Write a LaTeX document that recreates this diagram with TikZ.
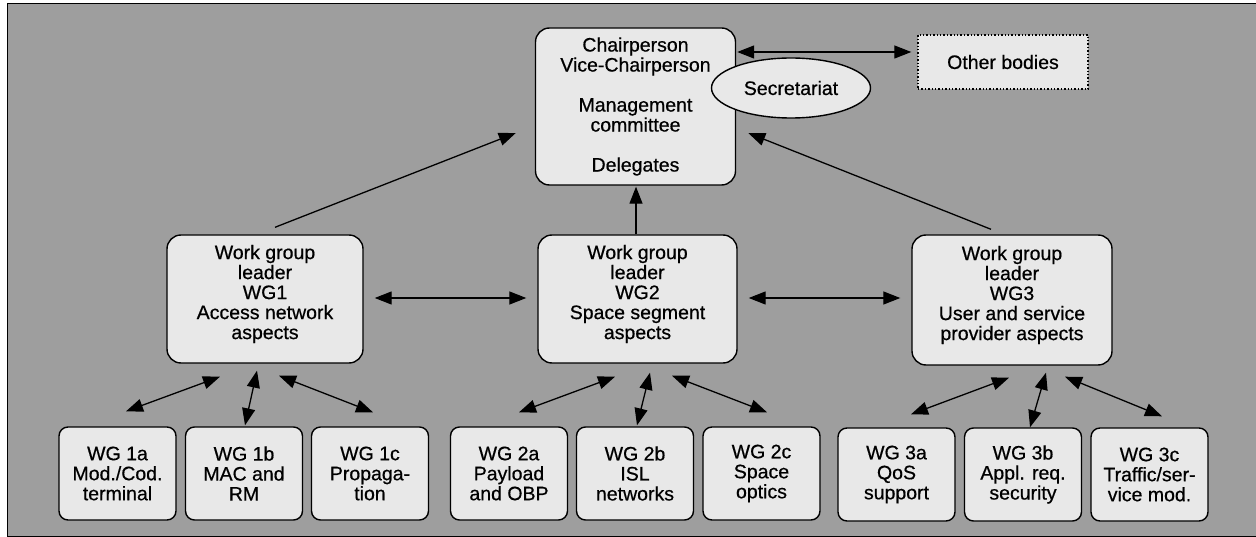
\documentclass[tikz,border=0pt]{standalone}
\usepackage{fontspec}
\setmainfont{Liberation Sans}[FakeBold=0.6]
\newfontfamily\lab{Liberation Sans}[FakeBold=0.6]
\usetikzlibrary{arrows.meta,calc,shapes.geometric}
\definecolor{bggray}{HTML}{9E9E9E}
\definecolor{boxfill}{HTML}{E8E8E8}
\tikzset{
  box/.style={draw=black, line width=1.4pt, fill=boxfill, rounded corners=14pt, align=center, inner sep=0pt, font=\lab\fontsize{19.5}{20}\selectfont},
  smallbox/.style={box, rounded corners=9pt, minimum width=117pt, minimum height=93pt},
  wgbox/.style={box, minimum height=128pt},
  conn/.style={line width=1.3pt, -{Triangle[length=17pt,width=13pt]}},
  dconn/.style={line width=1.3pt, {Triangle[length=17pt,width=13pt]}-{Triangle[length=17pt,width=13pt]}}
}
\begin{document}
\begin{tikzpicture}[x=1pt,y=-1pt]
\useasboundingbox (0,0) rectangle (1256,537);
\draw[fill=bggray, line width=1pt] (7,4) rectangle (1256,536);

% top
\node[box, minimum width=200pt, minimum height=157pt] (top) at (635.5,106.5) {Chairperson\\Vice-Chairperson\\[20pt]Management\\committee\\[20pt]Delegates};
\node[draw=black, line width=1.4pt, fill=boxfill, ellipse, minimum width=159pt, minimum height=60pt, inner sep=0pt, font=\lab\fontsize{19.5}{20}\selectfont] (sec) at (791,88) {Secretariat};
\node[draw=black, line width=1.4pt, dotted, fill=boxfill, minimum width=170pt, minimum height=54pt, inner sep=0pt, font=\lab\fontsize{19.5}{20}\selectfont] (other) at (1003,62) {Other bodies};

% work group leaders
\node[wgbox, minimum width=196pt] (wg1) at (265,299) {Work group\\leader\\WG1\\Access network\\aspects\\[-6pt]\mbox{}};
\node[wgbox, minimum width=199pt] (wg2) at (637.5,299) {Work group\\leader\\WG2\\Space segment\\aspects\\[-6pt]\mbox{}};
\node[wgbox, minimum width=200pt, minimum height=130pt] (wg3) at (1012,300) {Work group\\leader\\WG3\\User and service\\provider aspects\\[-6pt]\mbox{}};

% sub groups
\node[smallbox] (w1a) at (117.5,473.5) {WG 1a\\Mod./Cod.\\terminal};
\node[smallbox] (w1b) at (244,473.5) {WG 1b\\MAC and\\RM};
\node[smallbox] (w1c) at (370,473.5) {WG 1c\\Propaga-\\tion};
\node[smallbox] (w2a) at (509,473.5) {WG 2a\\Payload\\and OBP};
\node[smallbox] (w2b) at (635,473.5) {WG 2b\\ISL\\networks};
\node[smallbox] (w2c) at (761.5,473.5) {WG 2c\\Space\\optics};
\node[smallbox] (w3a) at (896.5,474.5) {WG 3a\\QoS\\support};
\node[smallbox] (w3b) at (1023,474.5) {WG 3b\\Appl. req.\\security};
\node[smallbox] (w3c) at (1149.5,474.5) {WG 3c\\Traffic/ser-\\vice mod.};

% to top
\draw[conn] ($(wg1.north)+(10,-7)$) -- ($(top.west)+(-19,26.5)$);
\draw[conn] ($(wg2.north)+(-1.5,0)$) -- ($(top.south)+(0.5,1)$);
\draw[conn] ($(wg3.north)+(-21,-5)$) -- ($(top.east)+(12,26.5)$);
\draw[dconn] ($(top.east)+(1,-54.5)$) -- ($(other.west)+(-6,-10)$);

% between leaders
\draw[dconn, shorten <=11pt, shorten >=11pt] ($(wg1.east)+(0,-1)$) -- ($(wg2.west)+(0,-1)$);
\draw[dconn, shorten <=11pt, shorten >=11pt] ($(wg2.east)+(0,-1)$) -- ($(wg3.west)+(0,-2)$);

% sub arrows
\draw[dconn] ($(wg1.south)+(-45,13)$) -- ($(w1a.north)+(8.5,-15)$);
\draw[dconn] ($(wg1.south)+(-8,7)$) -- ($(w1b.north)+(1,-1)$);
\draw[dconn] ($(wg1.south)+(14,12)$) -- ($(w1c.north)+(3,-14)$);
\draw[dconn] ($(wg2.south)+(-22.5,13)$) -- ($(w2a.north)+(10,-14)$);
\draw[dconn] ($(wg2.south)+(12.5,9)$) -- ($(w2b.north)+(2,-1)$);
\draw[dconn] ($(wg2.south)+(34.5,12)$) -- ($(w2c.north)+(5.5,-14)$);
\draw[dconn] ($(wg3.south)+(-3,12)$) -- ($(w3a.north)+(14.5,-13)$);
\draw[dconn] ($(wg3.south)+(34,7)$) -- ($(w3b.north)+(7,0)$);
\draw[dconn] ($(wg3.south)+(53,11)$) -- ($(w3c.north)+(12.5,-11)$);
\end{tikzpicture}
\end{document}
